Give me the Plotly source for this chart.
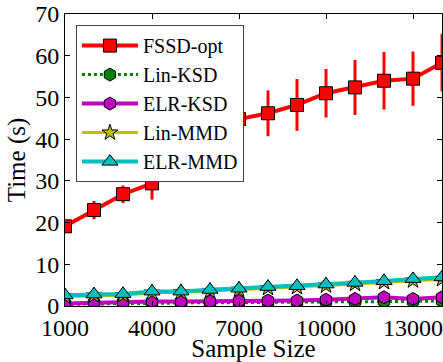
import plotly.graph_objects as go

sample_size = [1000, 2000, 3000, 4000, 5000, 6000, 7000, 8000, 9000, 10000, 11000, 12000, 13000, 14000]
fssd_opt = [19.1, 23.0, 26.8, 29.4, 34.5, 40.0, 44.8, 46.2, 48.2, 51.0, 52.4, 54.0, 54.5, 58.3]
fssd_opt_err = [1.0, 2.2, 2.1, 3.9, 4.5, 5.0, 5.3, 5.5, 6.2, 5.8, 6.6, 6.9, 6.5, 6.9]
lin_ksd = [0.4, 0.5, 0.6, 0.7, 0.7, 0.8, 0.8, 0.9, 0.9, 1.0, 1.0, 1.1, 1.1, 1.2]
elr_ksd = [0.6, 0.8, 0.9, 1.1, 1.1, 1.1, 1.2, 1.3, 1.3, 1.5, 1.7, 2.1, 1.7, 2.1]
lin_mmd = [2.3, 2.5, 2.6, 3.2, 3.3, 3.6, 3.9, 4.3, 4.5, 4.9, 5.3, 5.7, 6.1, 6.4]
elr_mmd = [2.6, 2.8, 2.9, 3.5, 3.5, 3.9, 4.2, 4.6, 4.8, 5.2, 5.6, 6.0, 6.5, 6.9]
x_ticks = [1000, 4000, 7000, 10000, 13000]
x_tick_labels = ["1000", "4000", "7000", "10000", "13000"]
y_ticks = [0, 10, 20, 30, 40, 50, 60, 70]

FONT = "Liberation Serif"

fig = go.Figure()

def add(name, y, color, symbol, size, dash="solid", err=None, lw=4):
    fig.add_trace(go.Scatter(
        x=sample_size, y=y, name=name, mode="lines+markers",
        line=dict(color=color, width=lw, dash=dash),
        marker=dict(symbol=symbol, size=size, color=color,
                    line=dict(color="black", width=1)),
        error_y=dict(type="data", array=err, visible=err is not None,
                     color=color, thickness=3, width=0),
    ))

add("FSSD-opt", fssd_opt, "#ff0000", "square", 13, err=fssd_opt_err)
add("Lin-KSD", lin_ksd, "#007f00", "hexagon", 13, dash="dot", lw=3)
add("ELR-KSD", elr_ksd, "#bf00bf", "hexagon", 13)
add("Lin-MMD", lin_mmd, "#bfbf00", "star", 12, lw=3)
add("ELR-MMD", elr_mmd, "#00bfbf", "triangle-up", 14)

axis_common = dict(
    showline=True, linecolor="black", linewidth=1, mirror="ticks",
    ticks="inside", ticklen=5, tickcolor="black", showgrid=False,
    zeroline=False, tickfont=dict(family=FONT, size=24, color="black"),
)

fig.update_layout(
    width=443, height=362,
    margin=dict(l=65, r=1, t=14, b=56),
    plot_bgcolor="white", paper_bgcolor="white",
    font=dict(family=FONT, color="black"),
    xaxis=dict(range=[1000, 14000], tickvals=x_ticks, ticktext=x_tick_labels,
               title=dict(text="Sample Size", font=dict(family=FONT, size=25), standoff=2),
               **axis_common),
    yaxis=dict(range=[0, 70], tickvals=y_ticks,
               title=dict(text="Time (s)", font=dict(family=FONT, size=25), standoff=2),
               **axis_common),
    legend=dict(x=0.029, y=0.962, xanchor="left", yanchor="top",
                bgcolor="white", bordercolor="#444", borderwidth=1,
                font=dict(family=FONT, size=20), itemsizing="trace",
                itemwidth=56, tracegroupgap=0),
    showlegend=True,
)

fig.write_html("out.html", config={"displayModeBar": False},
               post_script="document.body.style.margin='0';document.body.style.overflow='hidden';")
